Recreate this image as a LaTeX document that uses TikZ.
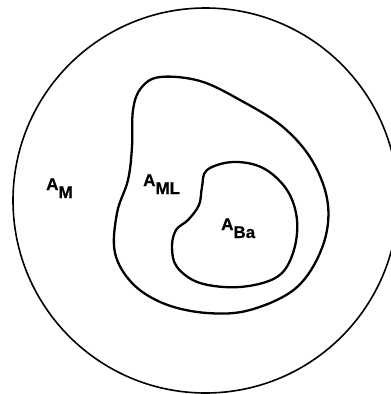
\documentclass[tikz,border=0pt]{standalone}
\usepackage{fontspec}
\setmainfont{Liberation Sans}[FakeBold=0.6]
\newcommand{\sublow}[1]{\raisebox{-8pt}{#1}}
\begin{document}
\begin{tikzpicture}[x=1pt,y=-1pt,
    outerline/.style={line width=1.6pt},
    region/.style={line width=2.3pt, line join=round},
    lbl/.style={font=\fontsize{17}{18}\selectfont\bfseries, inner sep=0pt, anchor=base west}]
    \useasboundingbox (0,0) rectangle (391,394);
    \clip (0,0) rectangle (391,394);

    % Kreis A_M
    \draw[outerline] (205.5,200.5) circle [radius=192.5pt];

    % Gebiet A_ML
    \draw[region] plot[smooth cycle, tension=0.6] coordinates {
        (160,77) (200,81) (240,100) (283,127) (313,162) (328,205) (322,248)
        (296,288) (250,310) (207,313) (165,304) (133,284) (115,253)
        (117,213) (128,180) (132,147) (133,110) (141,88)};

    % Gebiet A_Ba
    \draw[region] plot[smooth cycle, tension=0.6] coordinates {
        (207,170) (233,162) (263,168) (287,190) (297,220) (293,253)
        (277,277) (240,287) (200,283) (177,267) (172,247) (176,230)
        (188,220) (199,205) (202,187)};

    % Beschriftungen
    \node[lbl] (am)  at (46,190)  {A\sublow{M}};
    \node[lbl] (aml) at (143,186) {A\sublow{ML}};
    \node[lbl] (aba) at (221,230) {A\sublow{Ba}};
\end{tikzpicture}
\end{document}
